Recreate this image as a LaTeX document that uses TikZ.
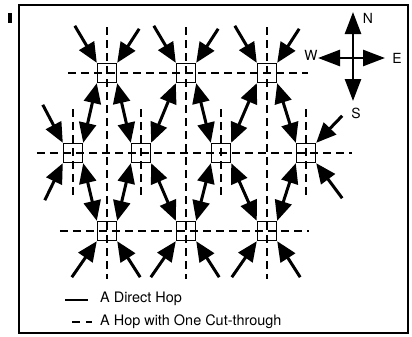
\documentclass[tikz,border=0pt]{standalone}
\usepackage{fontspec}
\setmainfont{TeX Gyre Heros}
\usetikzlibrary{arrows.meta}

\begin{document}
\begin{tikzpicture}[x=1bp,y=-1bp,
  router/.style={draw,rectangle,minimum size=19bp,inner sep=0pt,line width=1.4bp},
  hop/.style={line width=3bp,-{Triangle[length=20bp,width=17bp]}},
  twohop/.style={line width=3bp,{Triangle[length=20bp,width=17bp]}-{Triangle[length=20bp,width=17bp]}},
  cut/.style={line width=2.6bp,dash pattern=on 8bp off 5bp},
  dirarrow/.style={line width=2.6bp,-{Triangle[length=22bp,width=16bp]}},
  dirtext/.style={font=\fontsize{14}{16}\selectfont,inner sep=0pt},
  legendtext/.style={font=\fontsize{14.5}{16}\selectfont,anchor=base west,inner sep=0pt}
  ]
\useasboundingbox (0,0) rectangle (412,337);

% Frame
\draw[line width=2bp] (19,5) rectangle (408,333);
\fill (8,13) rectangle (12,23);

% Routers, three rows
\node[router] (A1) at (107,73) {};
\node[router] (A2) at (186,73) {};
\node[router] (A3) at (267,73) {};

\node[router] (B1) at (73,153) {};
\node[router] (B2) at (141,153) {};
\node[router] (B3) at (221,153) {};
\node[router] (B4) at (306,153) {};

\node[router] (C1) at (107,231) {};
\node[router] (C2) at (186,231) {};
\node[router] (C3) at (267,231) {};

% Hops with one cut-through (dashed)
\draw[cut] ([xshift=-39bp]A1.center) -- ([xshift=41bp]A3.center);
\draw[cut] ([xshift=-36bp]B1.center) -- ([xshift=46bp]B4.center);
\draw[cut] ([xshift=-47bp]C1.center) -- ([xshift=42bp]C3.center);
\foreach \n/\m in {A1/C1,A2/C2,A3/C3}
  \draw[cut] ([yshift=46bp]\n.center) -- ([yshift=-48bp]\m.center);
\foreach \n in {B1,B2,B3,B4}
  \draw[cut] ([yshift=44bp]\n.center) -- ([yshift=-46bp]\n.center);

% Direct hops between rows
\draw[twohop] (A1.south west) -- (B1.north east);
\draw[twohop] (A1.south east) -- (B2.north west);
\draw[twohop] (A2.south west) -- (B2.north east);
\draw[twohop] (A2.south east) -- (B3.north west);
\draw[twohop] (A3.south west) -- (B3.north east);
\draw[twohop] (A3.south east) -- (B4.north west);
\draw[twohop] (C1.north west) -- (B1.south east);
\draw[twohop] (C1.north east) -- (B2.south west);
\draw[twohop] (C2.north west) -- (B2.south east);
\draw[twohop] (C2.north east) -- (B3.south west);
\draw[twohop] (C3.north west) -- (B3.south east);
\draw[twohop] (C3.north east) -- (B4.south west);

% Direct hops from outside the grid
\foreach \n in {A1,A2,A3} {
  \draw[hop] ([shift={(-22bp,37bp)}]\n.north west) -- (\n.north west);
  \draw[hop] ([shift={(22bp,34bp)}]\n.north east) -- (\n.north east);
}
\foreach \n in {C1,C2,C3} {
  \draw[hop] ([shift={(-25bp,-36bp)}]\n.south west) -- (\n.south west);
  \draw[hop] ([shift={(23bp,-36bp)}]\n.south east) -- (\n.south east);
}
\draw[hop] ([shift={(-20bp,38bp)}]B1.north west) -- (B1.north west);
\draw[hop] ([shift={(-18bp,-37bp)}]B1.south west) -- (B1.south west);
\draw[hop] ([shift={(26bp,27bp)}]B4.north east) -- (B4.north east);
\draw[hop] ([shift={(26bp,-35bp)}]B4.south east) -- (B4.south east);

% Compass
\coordinate (hub) at (353,58);
\coordinate (tipN) at (353,12);
\coordinate (tipS) at (353,101);
\coordinate (tipW) at (318,58);
\coordinate (tipE) at (385,58);
\draw[dirarrow] (hub) -- (tipN);
\draw[dirarrow] (hub) -- (tipS);
\draw[dirarrow] (hub) -- (tipW);
\draw[dirarrow] (hub) -- (tipE);
\node[dirtext] (lblN) at (368,18) {N};
\node[dirtext] (lblS) at (356,113) {S};
\node[dirtext] (lblW) at (311,55) {W};
\node[dirtext] (lblE) at (397,58) {E};

% Legend
\coordinate (solidL) at (65,300);
\coordinate (solidR) at (88,300);
\coordinate (dashL) at (72,322);
\coordinate (dashR) at (92,322);
\draw[line width=2bp] (solidL) -- (solidR);
\draw[line width=2.4bp,dash pattern=on 8bp off 6bp] (dashL) -- (dashR);
\node[legendtext] (legA) at (100,302) {A Direct Hop};
\node[legendtext] (legB) at (100,325) {A Hop with One Cut-through};

\end{tikzpicture}
\end{document}
